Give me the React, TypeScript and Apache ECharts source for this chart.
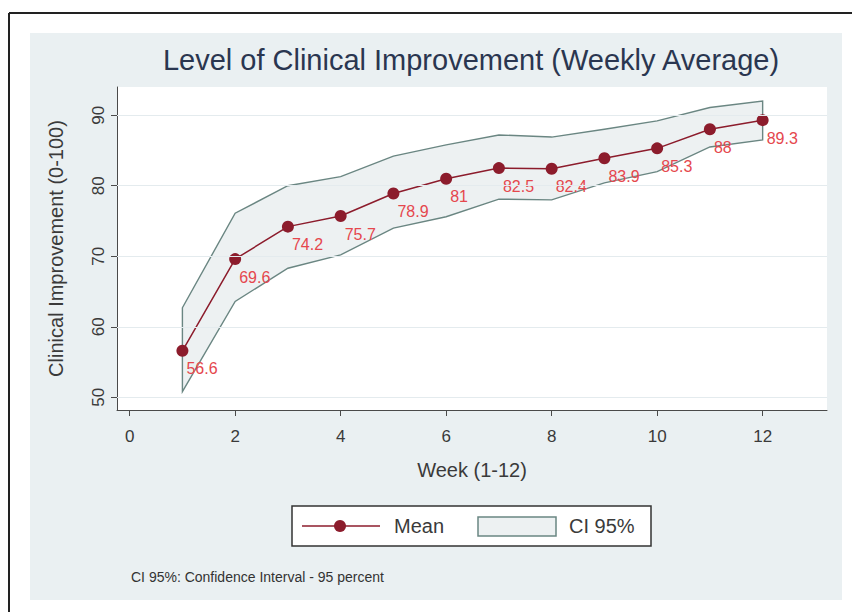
import React, { useEffect, useRef } from "react";
import * as echarts from "echarts";

const weeks = [1, 2, 3, 4, 5, 6, 7, 8, 9, 10, 11, 12];
const meanValues = [56.6, 69.6, 74.2, 75.7, 78.9, 81, 82.5, 82.4, 83.9, 85.3, 88, 89.3];
const ciUpper = [62.7, 76.1, 80.0, 81.3, 84.2, 85.8, 87.2, 86.9, 88.0, 89.2, 91.1, 92.0];
const ciLower = [50.8, 63.6, 68.3, 70.2, 74.0, 75.6, 78.1, 78.0, 80.4, 82.0, 85.5, 86.5];
const xTicks = [0, 2, 4, 6, 8, 10, 12];
const yTicks = [50, 60, 70, 80, 90];

const titleText = "Level of Clinical Improvement (Weekly Average)";
const xTitle = "Week (1-12)";
const yTitle = "Clinical Improvement (0-100)";
const legendMean = "Mean";
const legendCI = "CI 95%";
const noteText = "CI 95%: Confidence Interval - 95 percent";

const FONT = "'Liberation Sans', Arial, Helvetica, sans-serif";
const MAROON = "#8c1c2c";
const CI_FILL = "#edf1f2";
const CI_STROKE = "#6a8682";

export default function App() {
  const ref = useRef<HTMLDivElement>(null);
  useEffect(() => {
    if (!ref.current) return;
    const chart = echarts.init(ref.current, undefined, { renderer: "svg" });
    const meanData = weeks.map((w, i) => [w, meanValues[i]]);
    const ciData = weeks.map((w, i) => [w, ciLower[i], ciUpper[i]]);
    chart.setOption({
      animation: false,
      backgroundColor: "#ffffff",
      textStyle: { fontFamily: FONT },
      grid: {
        left: 117,
        right: 25,
        top: 87,
        bottom: 202,
        show: true,
        backgroundColor: "#ffffff",
        borderWidth: 0,
      },
      xAxis: {
        type: "value",
        min: -0.24,
        max: 13.22,
        name: xTitle,
        nameLocation: "middle",
        nameGap: 50,
        nameTextStyle: { fontSize: 20, color: "#3a3a3a", fontFamily: FONT },
        axisLine: { show: true, onZero: false, lineStyle: { color: "#4a4a4a", width: 1 } },
        axisTick: { show: true, length: 6, customValues: xTicks, lineStyle: { color: "#4a4a4a" } },
        axisLabel: { customValues: xTicks, fontSize: 17, color: "#3a3a3a", margin: 18, fontFamily: FONT },
        splitLine: { show: false },
      },
      yAxis: {
        type: "value",
        min: 48.2,
        max: 94,
        name: yTitle,
        nameLocation: "middle",
        nameGap: 51,
        nameTextStyle: { fontSize: 20, color: "#3a3a3a", fontFamily: FONT },
        axisLine: { show: true, onZero: false, lineStyle: { color: "#4a4a4a", width: 1 } },
        axisTick: { show: true, length: 6, customValues: yTicks, lineStyle: { color: "#4a4a4a" } },
        axisLabel: { customValues: yTicks, rotate: 90, fontSize: 17, color: "#3a3a3a", margin: 10, fontFamily: FONT },
        splitLine: { show: false },
      },
      series: [
        {
          type: "line",
          name: "grid",
          data: [],
          silent: true,
          markLine: {
            silent: true,
            symbol: "none",
            label: { show: false },
            lineStyle: { color: "#e4ebee", width: 1, type: "solid" },
            data: yTicks.map((v) => ({ yAxis: v })),
          },
        },
        {
          type: "custom",
          name: legendCI,
          data: ciData,
          encode: { x: 0, y: [1, 2] },
          renderItem: (params: any, api: any) => {
            if (params.dataIndexInside !== 0) return null;
            const n = params.dataInsideLength;
            const top: number[][] = [];
            const bot: number[][] = [];
            for (let j = 0; j < n; j++) {
              top.push(api.coord([api.value(0, j), api.value(2, j)]));
              bot.push(api.coord([api.value(0, j), api.value(1, j)]));
            }
            const pts = top.concat(bot.reverse());
            return {
              type: "polygon",
              shape: { points: pts },
              style: { fill: CI_FILL, stroke: CI_STROKE, lineWidth: 1.4 },
            };
          },
        },
        {
          type: "line",
          name: legendMean,
          data: meanData,
          symbol: "circle",
          symbolSize: 12,
          itemStyle: { color: MAROON },
          lineStyle: { color: MAROON, width: 1.5 },
          label: {
            show: true,
            position: [10, 24],
            align: "left",
            verticalAlign: "middle",
            fontSize: 16,
            color: "#e5474d",
            fontFamily: FONT,
            formatter: (p: any) => String(p.value[1]),
          },
        },
      ],
      graphic: [
        { type: "rect", z: -100, shape: { x: 30, y: 33, width: 812, height: 567 }, style: { fill: "#eaf0f2" } },
        { type: "line", z: 10, shape: { x1: 9, y1: 13, x2: 852, y2: 13 }, style: { stroke: "#222", lineWidth: 2 } },
        { type: "line", z: 10, shape: { x1: 9, y1: 13, x2: 9, y2: 612 }, style: { stroke: "#222", lineWidth: 2 } },
        {
          type: "text",
          x: 471,
          y: 60,
          style: { text: titleText, fontSize: 29, fill: "#2a3650", fontFamily: FONT, align: "center", verticalAlign: "middle" },
        },
        { type: "rect", shape: { x: 292, y: 506, width: 359, height: 40 }, style: { fill: "#ffffff", stroke: "#333", lineWidth: 1.5 } },
        { type: "line", shape: { x1: 302, y1: 526, x2: 380, y2: 526 }, style: { stroke: MAROON, lineWidth: 1.5 } },
        { type: "circle", shape: { cx: 340, cy: 526, r: 6 }, style: { fill: MAROON } },
        { type: "text", x: 394, y: 526, style: { text: legendMean, fontSize: 20, fill: "#3a3a3a", fontFamily: FONT, verticalAlign: "middle" } },
        { type: "rect", shape: { x: 478, y: 517, width: 78, height: 19 }, style: { fill: CI_FILL, stroke: CI_STROKE, lineWidth: 1.5 } },
        { type: "text", x: 569, y: 526, style: { text: legendCI, fontSize: 20, fill: "#3a3a3a", fontFamily: FONT, verticalAlign: "middle" } },
        { type: "text", x: 131, y: 577, style: { text: noteText, fontSize: 14, fill: "#333", fontFamily: FONT, verticalAlign: "middle" } },
      ],
    });
    return () => chart.dispose();
  }, []);
  return <div ref={ref} style={{ position: "absolute", left: 0, top: 0, width: 852, height: 612 }} />;
}
